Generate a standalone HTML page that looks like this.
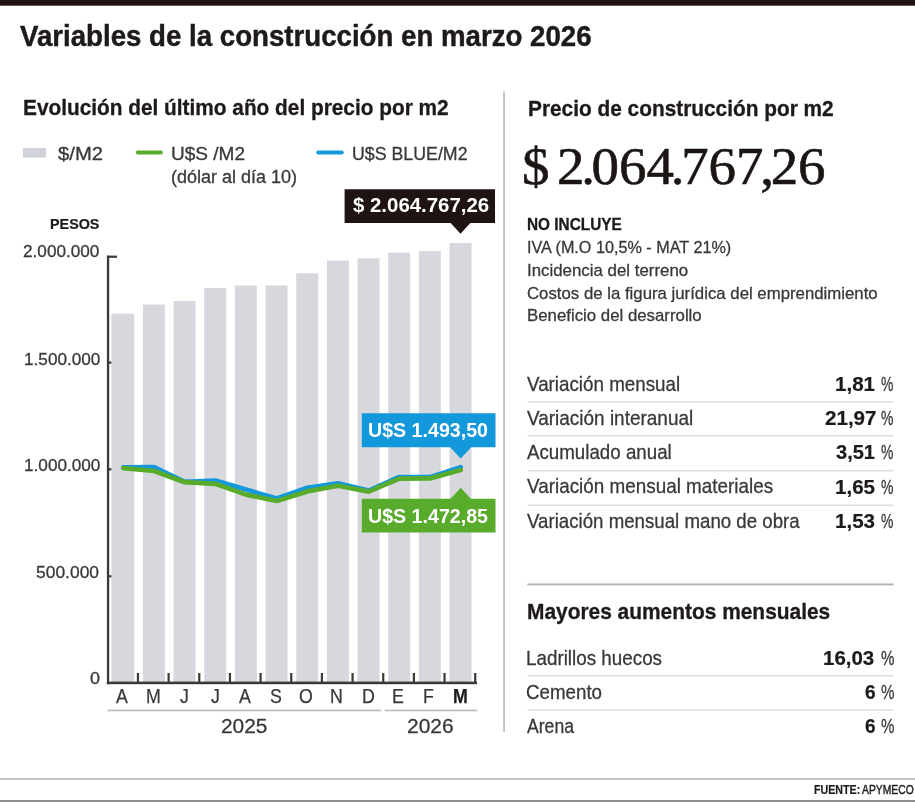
<!DOCTYPE html>
<html lang="es"><head><meta charset="utf-8"><title>Variables de la construcción en marzo 2026</title>
<style>
html,body{margin:0;padding:0;background:#fff}
body{width:915px;height:802px;position:relative;overflow:hidden;font-family:"Liberation Sans",sans-serif}
.chart{position:absolute;left:0;top:0;overflow:visible;filter:blur(0.45px)}
.tl{position:absolute;left:0;top:0;width:915px;height:802px;will-change:transform;filter:blur(0.4px)}
.t{position:absolute;white-space:nowrap;line-height:1;transform-origin:0 0;font-family:"Liberation Sans",sans-serif}
.t b{font-weight:700;color:#1e1a19}
.t i{font-style:normal;margin:0 -0.06em}
</style></head><body>
<svg class="chart" width="915" height="802" viewBox="0 0 915 802">
<rect x="-10" y="-10" width="935" height="15.7" fill="#211110"/><rect x="503.1" y="91.5" width="1.9" height="640.5" fill="#c4c4c4"/><rect x="527.5" y="401.2" width="366" height="1.5" fill="#dedede"/><rect x="527.5" y="435" width="366" height="1.5" fill="#dedede"/><rect x="527.5" y="470" width="366" height="1.5" fill="#dedede"/><rect x="527.5" y="504.5" width="366" height="1.5" fill="#dedede"/><rect x="527.3" y="583.5" width="366.2" height="1.9" fill="#b2b2b2"/><rect x="527.5" y="675" width="366" height="1.5" fill="#dedede"/><rect x="527.5" y="709.2" width="366" height="1.5" fill="#dedede"/><rect x="-10" y="778" width="935" height="2" fill="#c2c2c2"/><rect x="-10" y="800" width="935" height="12" fill="#8e8e8e"/>
<g fill="#3d3837"><rect x="107.5" y="255.60" width="9.5" height="2.2"/><rect x="107.5" y="361.50" width="9.5" height="2.2"/><rect x="107.5" y="468.20" width="9.5" height="2.2"/><rect x="107.5" y="575.20" width="9.5" height="2.2"/></g>
<g fill="#d7d8de"><rect x="111.35" y="313.75" width="22.90" height="368.25"/><rect x="142.91" y="304.50" width="22.00" height="377.50"/><rect x="173.57" y="301.00" width="22.00" height="381.00"/><rect x="204.23" y="288.00" width="22.00" height="394.00"/><rect x="234.89" y="285.50" width="22.00" height="396.50"/><rect x="265.55" y="285.50" width="22.00" height="396.50"/><rect x="296.21" y="273.25" width="22.00" height="408.75"/><rect x="326.87" y="260.50" width="22.00" height="421.50"/><rect x="357.53" y="258.25" width="22.00" height="423.75"/><rect x="388.19" y="252.75" width="22.00" height="429.25"/><rect x="418.85" y="251.00" width="22.00" height="431.00"/><rect x="449.51" y="243.00" width="22.00" height="439.00"/></g>
<g fill="#3d3837"><rect x="106.9" y="255.6" width="2.3" height="428.6"/><rect x="106.9" y="681.6" width="370.1" height="2.6"/><rect x="136.85" y="673" width="2.2" height="10"/><rect x="167.51" y="673" width="2.2" height="10"/><rect x="198.17" y="673" width="2.2" height="10"/><rect x="228.83" y="673" width="2.2" height="10"/><rect x="259.49" y="673" width="2.2" height="10"/><rect x="290.15" y="673" width="2.2" height="10"/><rect x="320.81" y="673" width="2.2" height="10"/><rect x="351.47" y="673" width="2.2" height="10"/><rect x="382.13" y="673" width="2.2" height="10"/><rect x="412.79" y="673" width="2.2" height="10"/><rect x="443.45" y="673" width="2.2" height="10"/><rect x="474.11" y="673" width="2.2" height="10"/></g>
<polyline points="123.4,467.4 154.1,467.0 184.7,481.8 215.4,480.6 246.0,489.6 276.7,498.4 307.4,487.8 338.0,483.4 368.7,490.6 399.3,477.0 430.0,477.2 460.7,467.2" fill="none" stroke="#1398db" stroke-width="4.7" stroke-linejoin="round" stroke-linecap="round"/>
<polyline points="123.4,468.2 154.1,471.0 184.7,482.2 215.4,483.8 246.0,494.6 276.7,501.0 307.4,491.4 338.0,485.8 368.7,491.6 399.3,478.6 430.0,478.4 460.7,470.0" fill="none" stroke="#58ab2b" stroke-width="4.7" stroke-linejoin="round" stroke-linecap="round"/>
<rect x="107.5" y="709.6" width="273.7" height="1.7" fill="#bcbcbc"/><rect x="384.8" y="709.6" width="92.4" height="1.7" fill="#bcbcbc"/>
<path d="M344.6 189.3H495V223H470.4L460.5 233.7L450.6 223H344.6Z" fill="#1f1413"/>
<path d="M361.8 413.3H495.5V447.3H471.2L460.7 458.5L450.2 447.3H361.8Z" fill="#1398db"/>
<path d="M361.8 498.7H450.6L460.7 487.8L470.8 498.7H495.5V532.4H361.8Z" fill="#58ab2b"/>
<rect x="23" y="148" width="23" height="9.6" fill="#d0d3da"/>
<path d="M137.8 152.5H160.8" stroke="#58ab2b" stroke-width="4" stroke-linecap="round" fill="none"/>
<path d="M318.3 152.5H341.7" stroke="#1398db" stroke-width="4" stroke-linecap="round" fill="none"/>
</svg>
<div class="tl">
<div class="t" style="left:20.40px;top:22.25px;font-size:29px;font-weight:700;color:#1e1a19;transform:scaleX(0.9533);-webkit-text-stroke:0.45px #1e1a19">Variables de la construcción en marzo 2026</div>
<div class="t" style="left:23.40px;top:96.71px;font-size:22.2px;font-weight:700;color:#1e1a19;transform:scaleX(0.9381);-webkit-text-stroke:0.3px #1e1a19">Evolución del último año del precio por m2</div>
<div class="t" style="left:58.00px;top:145.36px;font-size:18px;font-weight:400;color:#3a3735;transform:scaleX(1.1243);-webkit-text-stroke:0.28px #3a3735">$/M2</div>
<div class="t" style="left:170.96px;top:145.36px;font-size:18px;font-weight:400;color:#3a3735;transform:scaleX(1.0575);-webkit-text-stroke:0.28px #3a3735">U$S /M2</div>
<div class="t" style="left:170.98px;top:168.36px;font-size:18px;font-weight:400;color:#3a3735;transform:scaleX(0.9996);-webkit-text-stroke:0.28px #3a3735">(dólar al día 10)</div>
<div class="t" style="left:352.49px;top:145.36px;font-size:18px;font-weight:400;color:#3a3735;transform:scaleX(0.9870);-webkit-text-stroke:0.28px #3a3735">U$S BLUE/M2</div>
<div class="t" style="left:49.57px;top:215.66px;font-size:15.4px;font-weight:700;color:#1e1a19;transform:scaleX(0.9318);-webkit-text-stroke:0.2px #1e1a19">PESOS</div>
<div class="t" style="left:22.98px;top:243.36px;font-size:17.3px;font-weight:400;color:#3a3735;transform:scaleX(0.9939);-webkit-text-stroke:0.28px #3a3735">2.000.000</div>
<div class="t" style="left:23.58px;top:350.86px;font-size:17.3px;font-weight:400;color:#3a3735;transform:scaleX(0.9941);-webkit-text-stroke:0.28px #3a3735">1.500.000</div>
<div class="t" style="left:23.58px;top:457.36px;font-size:17.3px;font-weight:400;color:#3a3735;transform:scaleX(0.9941);-webkit-text-stroke:0.28px #3a3735">1.000.000</div>
<div class="t" style="left:35.98px;top:563.86px;font-size:17.3px;font-weight:400;color:#3a3735;transform:scaleX(1.0088);-webkit-text-stroke:0.28px #3a3735">500.000</div>
<div class="t" style="left:90.00px;top:670.11px;font-size:17.3px;font-weight:400;color:#3a3735;transform:scaleX(1.0418);-webkit-text-stroke:0.28px #3a3735">0</div>
<div class="t" style="left:352.80px;top:196.32px;font-size:19.7px;font-weight:700;color:#fff;transform:scaleX(1.0367)">$ 2.064.767,26</div>
<div class="t" style="left:368.38px;top:420.07px;font-size:20px;font-weight:700;color:#fff;transform:scaleX(0.9811)">U$S 1.493,50</div>
<div class="t" style="left:368.38px;top:505.87px;font-size:20px;font-weight:700;color:#fff;transform:scaleX(0.9811)">U$S 1.472,85</div>
<div class="t" style="left:116.17px;top:685.80px;font-size:20.2px;font-weight:400;color:#3a3735;transform:scaleX(0.8800);-webkit-text-stroke:0.25px #3a3735">A</div>
<div class="t" style="left:145.52px;top:685.80px;font-size:20.2px;font-weight:400;color:#3a3735;transform:scaleX(0.8800);-webkit-text-stroke:0.25px #3a3735">M</div>
<div class="t" style="left:180.30px;top:685.80px;font-size:20.2px;font-weight:400;color:#3a3735;transform:scaleX(0.8800);-webkit-text-stroke:0.25px #3a3735">J</div>
<div class="t" style="left:210.62px;top:685.80px;font-size:20.2px;font-weight:400;color:#3a3735;transform:scaleX(0.8800);-webkit-text-stroke:0.25px #3a3735">J</div>
<div class="t" style="left:239.45px;top:685.80px;font-size:20.2px;font-weight:400;color:#3a3735;transform:scaleX(0.8800);-webkit-text-stroke:0.25px #3a3735">A</div>
<div class="t" style="left:269.77px;top:685.80px;font-size:20.2px;font-weight:400;color:#3a3735;transform:scaleX(0.8800);-webkit-text-stroke:0.25px #3a3735">S</div>
<div class="t" style="left:299.11px;top:685.80px;font-size:20.2px;font-weight:400;color:#3a3735;transform:scaleX(0.8800);-webkit-text-stroke:0.25px #3a3735">O</div>
<div class="t" style="left:330.42px;top:685.80px;font-size:20.2px;font-weight:400;color:#3a3735;transform:scaleX(0.8800);-webkit-text-stroke:0.25px #3a3735">N</div>
<div class="t" style="left:361.74px;top:685.80px;font-size:20.2px;font-weight:400;color:#3a3735;transform:scaleX(0.8800);-webkit-text-stroke:0.25px #3a3735">D</div>
<div class="t" style="left:392.05px;top:685.80px;font-size:20.2px;font-weight:400;color:#3a3735;transform:scaleX(0.8800);-webkit-text-stroke:0.25px #3a3735">E</div>
<div class="t" style="left:423.37px;top:685.80px;font-size:20.2px;font-weight:400;color:#3a3735;transform:scaleX(0.8800);-webkit-text-stroke:0.25px #3a3735">F</div>
<div class="t" style="left:452.72px;top:685.80px;font-size:20.2px;font-weight:700;color:#1e1a19;transform:scaleX(0.8800);-webkit-text-stroke:0.25px #1e1a19">M</div>
<div class="t" style="left:220.77px;top:715.92px;font-size:20.3px;font-weight:400;color:#3a3735;transform:scaleX(1.0290);-webkit-text-stroke:0.28px #3a3735">2025</div>
<div class="t" style="left:407.14px;top:715.92px;font-size:20.3px;font-weight:400;color:#3a3735;transform:scaleX(1.0344);-webkit-text-stroke:0.28px #3a3735">2026</div>
<div class="t" style="left:527.80px;top:97.95px;font-size:21.8px;font-weight:700;color:#1e1a19;transform:scaleX(0.9560);-webkit-text-stroke:0.3px #1e1a19">Precio de construcción por m2</div>
<div class="t" style="left:521.98px;top:139.69px;font-size:53.5px;font-weight:400;color:#1b1514;transform:scaleX(1.0262);font-family:'Liberation Serif', serif;-webkit-text-stroke:0.6px #1b1514;word-spacing:-6px">$ 2<i>.</i>064<i>.</i>767<i>,</i>26</div>
<div class="t" style="left:526.78px;top:215.82px;font-size:16.4px;font-weight:700;color:#1e1a19;transform:scaleX(0.9370);-webkit-text-stroke:0.3px #1e1a19">NO INCLUYE</div>
<div class="t" style="left:526.79px;top:239.41px;font-size:17px;font-weight:400;color:#3a3735;transform:scaleX(0.9522);-webkit-text-stroke:0.28px #3a3735">IVA (M.O 10,5% - MAT 21%)</div>
<div class="t" style="left:526.79px;top:262.11px;font-size:17px;font-weight:400;color:#3a3735;transform:scaleX(0.9918);-webkit-text-stroke:0.28px #3a3735">Incidencia del terreno</div>
<div class="t" style="left:526.80px;top:285.21px;font-size:17px;font-weight:400;color:#3a3735;transform:scaleX(0.9870);-webkit-text-stroke:0.28px #3a3735">Costos de la figura jurídica del emprendimiento</div>
<div class="t" style="left:526.79px;top:306.81px;font-size:17px;font-weight:400;color:#3a3735;transform:scaleX(0.9886);-webkit-text-stroke:0.28px #3a3735">Beneficio del desarrollo</div>
<div class="t" style="left:526.80px;top:373.70px;font-size:20.2px;font-weight:400;color:#3a3735;transform:scaleX(0.9309);-webkit-text-stroke:0.28px #3a3735">Variación mensual</div>
<div class="t" style="left:834.94px;top:375.24px;font-size:19.8px;font-weight:700;color:#1e1a19;transform:scaleX(1.0401);-webkit-text-stroke:0.2px #1e1a19">1,81</div>
<div class="t" style="left:880.99px;top:375.24px;font-size:19.8px;font-weight:400;color:#3a3735;transform:scaleX(0.7050);-webkit-text-stroke:0.28px #3a3735">%</div>
<div class="t" style="left:526.80px;top:407.90px;font-size:20.2px;font-weight:400;color:#3a3735;transform:scaleX(0.9393);-webkit-text-stroke:0.28px #3a3735">Variación interanual</div>
<div class="t" style="left:824.50px;top:409.44px;font-size:19.8px;font-weight:700;color:#1e1a19;transform:scaleX(1.0403);-webkit-text-stroke:0.2px #1e1a19">21,97</div>
<div class="t" style="left:880.99px;top:409.44px;font-size:19.8px;font-weight:400;color:#3a3735;transform:scaleX(0.7050);-webkit-text-stroke:0.28px #3a3735">%</div>
<div class="t" style="left:526.80px;top:441.70px;font-size:20.2px;font-weight:400;color:#3a3735;transform:scaleX(0.9276);-webkit-text-stroke:0.28px #3a3735">Acumulado anual</div>
<div class="t" style="left:835.99px;top:443.24px;font-size:19.8px;font-weight:700;color:#1e1a19;transform:scaleX(1.0127);-webkit-text-stroke:0.2px #1e1a19">3,51</div>
<div class="t" style="left:880.99px;top:443.24px;font-size:19.8px;font-weight:400;color:#3a3735;transform:scaleX(0.7050);-webkit-text-stroke:0.28px #3a3735">%</div>
<div class="t" style="left:526.80px;top:476.20px;font-size:20.2px;font-weight:400;color:#3a3735;transform:scaleX(0.9350);-webkit-text-stroke:0.28px #3a3735">Variación mensual materiales</div>
<div class="t" style="left:834.94px;top:477.74px;font-size:19.8px;font-weight:700;color:#1e1a19;transform:scaleX(1.0401);-webkit-text-stroke:0.2px #1e1a19">1,65</div>
<div class="t" style="left:880.99px;top:477.74px;font-size:19.8px;font-weight:400;color:#3a3735;transform:scaleX(0.7050);-webkit-text-stroke:0.28px #3a3735">%</div>
<div class="t" style="left:526.80px;top:511.40px;font-size:20.2px;font-weight:400;color:#3a3735;transform:scaleX(0.9251);-webkit-text-stroke:0.28px #3a3735">Variación mensual mano de obra</div>
<div class="t" style="left:834.94px;top:511.94px;font-size:19.8px;font-weight:700;color:#1e1a19;transform:scaleX(1.0401);-webkit-text-stroke:0.2px #1e1a19">1,53</div>
<div class="t" style="left:880.99px;top:511.94px;font-size:19.8px;font-weight:400;color:#3a3735;transform:scaleX(0.7050);-webkit-text-stroke:0.28px #3a3735">%</div>
<div class="t" style="left:527.40px;top:600.78px;font-size:22px;font-weight:700;color:#1e1a19;transform:scaleX(0.9501);-webkit-text-stroke:0.3px #1e1a19">Mayores aumentos mensuales</div>
<div class="t" style="left:525.99px;top:647.90px;font-size:20.2px;font-weight:400;color:#3a3735;transform:scaleX(0.9323);-webkit-text-stroke:0.28px #3a3735">Ladrillos huecos</div>
<div class="t" style="left:822.97px;top:649.44px;font-size:19.8px;font-weight:700;color:#1e1a19;transform:scaleX(1.0345);-webkit-text-stroke:0.2px #1e1a19">16,03</div>
<div class="t" style="left:880.97px;top:649.44px;font-size:19.8px;font-weight:400;color:#3a3735;transform:scaleX(0.7640);-webkit-text-stroke:0.28px #3a3735">%</div>
<div class="t" style="left:525.97px;top:681.70px;font-size:20.2px;font-weight:400;color:#3a3735;transform:scaleX(0.9281);-webkit-text-stroke:0.28px #3a3735">Cemento</div>
<div class="t" style="left:864.61px;top:683.24px;font-size:19.8px;font-weight:700;color:#1e1a19;transform:scaleX(0.9631);-webkit-text-stroke:0.2px #1e1a19">6</div>
<div class="t" style="left:880.97px;top:683.24px;font-size:19.8px;font-weight:400;color:#3a3735;transform:scaleX(0.7640);-webkit-text-stroke:0.28px #3a3735">%</div>
<div class="t" style="left:527.00px;top:716.40px;font-size:20.2px;font-weight:400;color:#3a3735;transform:scaleX(0.8724);-webkit-text-stroke:0.28px #3a3735">Arena</div>
<div class="t" style="left:864.61px;top:716.94px;font-size:19.8px;font-weight:700;color:#1e1a19;transform:scaleX(0.9631);-webkit-text-stroke:0.2px #1e1a19">6</div>
<div class="t" style="left:880.97px;top:716.94px;font-size:19.8px;font-weight:400;color:#3a3735;transform:scaleX(0.7640);-webkit-text-stroke:0.28px #3a3735">%</div>
<div class="t" style="left:814.00px;top:783.57px;font-size:12.2px;font-weight:700;color:#1e1a19;transform:scaleX(0.8753);-webkit-text-stroke:0.2px #1e1a19">FUENTE:</div>
<div class="t" style="left:862.40px;top:783.57px;font-size:12.2px;font-weight:400;color:#1e1a19;transform:scaleX(0.8499);-webkit-text-stroke:0.4px #1e1a19">APYMECO</div>
</div>
</body></html>
